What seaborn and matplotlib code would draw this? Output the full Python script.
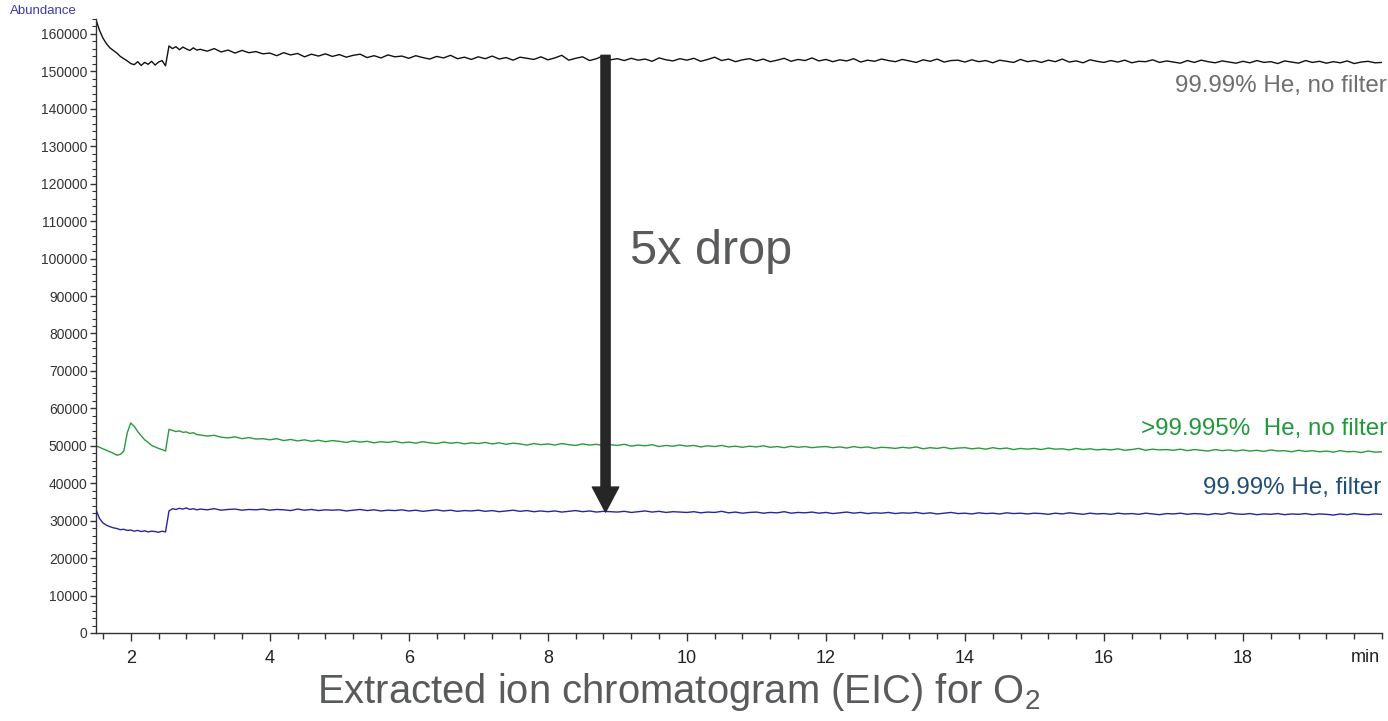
import numpy as np
import pandas as pd
import matplotlib
matplotlib.use("Agg")
import matplotlib.pyplot as plt
from matplotlib.ticker import MultipleLocator
import seaborn as sns

# Sampling grid: 0.05 min up to 2.95 min, then 0.1 min to 20.0 min
minutes = np.concatenate([
    np.round(1.5 + 0.05 * np.arange(30), 2),
    np.round(3.0 + 0.1 * np.arange(171), 1),
])

# Abundance traces, in thousands of counts
he_9999_no_filter = [
    163.8, 161.0, 158.9, 157.4, 156.3, 155.6, 154.9, 154.0, 153.4, 152.8,
    152.1, 151.8, 152.6, 151.6, 152.4, 151.9, 152.7, 151.7, 152.5, 152.9,
    151.5, 156.8, 156.1, 156.6, 155.8, 156.5, 156.0, 155.6, 156.3, 155.7,
    155.9, 155.4, 156.1, 155.2, 155.7, 154.9, 155.6, 155.0, 155.3, 154.7,
    154.9, 154.2, 155.0, 154.4, 154.8, 153.9, 154.6, 154.1, 154.7, 154.0,
    154.5, 153.8, 154.3, 154.6, 153.7, 154.2, 153.6, 154.4, 153.9, 154.1,
    153.5, 154.2, 153.7, 153.3, 154.0, 153.6, 154.3, 153.4, 153.8, 153.2,
    153.9, 153.4, 154.1, 153.3, 153.7, 153.0, 153.8, 153.5, 153.2, 153.9,
    153.1, 153.6, 154.3, 153.0, 153.5, 153.9, 152.9, 153.4, 154.2, 153.1,
    153.4, 152.9, 153.5, 153.0, 153.3, 152.7, 153.6, 153.1, 152.8, 153.4,
    153.0, 153.5, 152.7, 153.2, 153.8, 152.9, 153.3, 152.6, 153.1, 153.4,
    152.8, 153.3, 152.6, 153.0, 153.5, 152.7, 153.2, 152.9, 153.6, 152.8,
    153.2, 152.6, 153.1, 152.8, 153.4, 152.5, 153.0, 152.7, 153.3, 152.9,
    152.6, 153.2, 152.8, 152.4, 153.1, 152.7, 153.3, 152.5, 152.9, 153.0,
    152.5, 153.1, 152.6, 152.9, 152.3, 153.0, 152.7, 152.4, 153.2, 152.6,
    152.9, 152.4, 153.0, 152.6, 153.3, 152.5, 152.8, 152.3, 153.1, 152.7,
    152.4, 152.9, 152.5, 153.0, 152.3, 152.7, 152.6, 153.1, 152.4, 152.8,
    152.5, 152.2, 152.9, 152.4, 153.0, 152.6, 152.3, 152.8, 152.5, 152.2,
    152.7, 152.3, 152.9, 152.4, 152.6, 152.1, 152.8, 152.5, 152.2, 152.9,
    152.4, 152.7, 152.2, 152.6, 152.3, 152.8, 152.1, 152.5, 152.7, 152.3,
    152.4,
]

he_99995_no_filter = [
    50.0, 49.6, 49.2, 48.8, 48.4, 48.0, 47.5, 47.7, 48.6, 53.5,
    56.1, 55.2, 53.8, 52.7, 51.6, 50.9, 50.1, 49.7, 49.3, 49.0,
    48.6, 54.4, 54.1, 53.8, 54.0, 53.6, 53.7, 53.3, 53.5, 53.0,
    52.9, 52.6, 52.8, 52.3, 52.1, 52.4, 51.9, 52.2, 51.8, 51.9,
    51.6, 51.9, 51.4, 51.7, 51.3, 51.6, 51.2, 51.5, 51.1, 51.4,
    51.2, 50.9, 51.3, 51.0, 51.2, 50.8, 51.1, 50.9, 51.2, 50.8,
    51.0, 50.7, 51.1, 50.8, 50.6, 51.0, 50.7, 50.9, 50.5, 50.8,
    50.6, 50.9, 50.5, 50.8, 50.4, 50.7, 50.5, 50.2, 50.6, 50.3,
    50.5, 50.2, 50.6, 50.3, 50.1, 50.5, 50.2, 50.4, 50.0, 50.3,
    50.1, 50.4, 49.9, 50.2, 50.0, 50.3, 49.8, 50.1, 49.9, 50.2,
    49.9, 50.1, 49.7, 50.0, 49.8, 50.1, 49.7, 49.9, 49.6, 49.9,
    49.7, 50.0, 49.6, 49.8, 49.5, 49.9, 49.6, 49.8, 49.5, 49.7,
    49.8, 49.5, 49.7, 49.4, 49.8, 49.5, 49.7, 49.3, 49.6, 49.5,
    49.3, 49.6, 49.4, 49.7, 49.2, 49.5, 49.3, 49.6, 49.2, 49.4,
    49.5, 49.2, 49.4, 49.1, 49.5, 49.2, 49.4, 49.0, 49.3, 49.1,
    49.3, 49.0, 49.4, 49.1, 49.2, 48.9, 49.3, 49.0, 49.2, 48.9,
    49.1, 48.9, 49.2, 48.8, 49.0, 49.3, 48.8, 49.1, 48.9, 49.0,
    48.8, 49.1, 48.7, 49.0, 48.8, 48.6, 49.0, 48.7, 48.9, 48.6,
    48.9, 48.6, 48.8, 48.5, 48.9, 48.6, 48.7, 48.4, 48.8, 48.5,
    48.7, 48.4, 48.6, 48.3, 48.7, 48.4, 48.5, 48.2, 48.6, 48.3,
    48.4,
]

he_9999_filter = [
    32.9, 30.6, 29.4, 28.8, 28.4, 28.1, 27.9, 27.6, 27.7, 27.4,
    27.5, 27.2, 27.4, 27.1, 27.3, 27.0, 27.2, 27.1, 26.9, 27.2,
    27.0, 32.6, 33.2, 33.0, 33.3, 33.1, 33.4, 33.0, 33.2, 32.9,
    33.1, 32.9, 33.2, 32.8, 33.0, 33.1, 32.8, 33.0, 32.9, 33.1,
    32.8, 33.0, 32.9, 32.7, 33.1, 32.8, 33.0, 32.7, 32.9, 32.8,
    32.9, 32.6, 32.8, 33.0, 32.7, 32.9, 32.6, 32.8, 32.7, 32.9,
    32.6, 32.8, 32.5, 32.7, 32.9, 32.6, 32.8, 32.5, 32.7, 32.6,
    32.8, 32.5, 32.7, 32.4, 32.6, 32.8, 32.5, 32.7, 32.4, 32.6,
    32.4, 32.6, 32.3, 32.5, 32.7, 32.4, 32.6, 32.3, 32.5, 32.4,
    32.3, 32.5, 32.2, 32.4, 32.6, 32.3, 32.5, 32.2, 32.4, 32.3,
    32.2, 32.4, 32.1, 32.3, 32.2, 32.5, 32.1, 32.3, 32.0, 32.2,
    32.3, 32.0, 32.2, 32.1, 32.4, 32.0, 32.2, 32.1, 32.3, 32.0,
    32.2, 31.9, 32.1, 32.3, 32.0, 32.2, 31.9, 32.1, 32.0, 32.2,
    31.9, 32.1, 32.0, 32.2, 31.9, 32.1, 31.8, 32.0, 32.2, 31.9,
    32.0, 31.8, 32.1, 31.9, 32.0, 31.8, 32.1, 31.9, 32.0, 31.8,
    32.0, 31.9, 31.7, 32.0, 31.8, 32.1, 31.9, 31.7, 32.0, 31.8,
    31.9, 31.7, 32.0, 31.8, 31.9, 31.7, 32.0, 31.8, 31.6, 31.9,
    31.8, 32.0, 31.7, 31.9, 31.8, 31.6, 31.9, 31.7, 32.1, 31.8,
    31.7, 31.9, 31.6, 31.8, 31.7, 31.9, 31.6, 31.8, 31.7, 31.9,
    31.6, 31.8, 31.7, 31.5, 31.8, 31.6, 31.9, 31.7, 31.6, 31.8,
    31.7,
]

series_names = ["99.99% He, no filter", ">99.995%  He, no filter", "99.99% He, filter"]
line_colors = ["#111111", "#2b9a3c", "#2626a0"]
label_colors = ["#6e6e6e", "#1f9a3a", "#1f4e79"]

# Arrow from the unfiltered level down to the filtered level
drop_time = 8.83
drop_from = 154300
drop_to = 32300

frames = []
for name, vals in zip(series_names, [he_9999_no_filter, he_99995_no_filter, he_9999_filter]):
    frames.append(pd.DataFrame({
        "time": minutes,
        "abundance": np.asarray(vals) * 1000.0,
        "trace": name,
    }))
data = pd.concat(frames, ignore_index=True)

sns.set_theme(style="ticks")
plt.rcParams["font.family"] = ["Liberation Sans", "DejaVu Sans"]
plt.rcParams["mathtext.fontset"] = "custom"
plt.rcParams["mathtext.rm"] = "Liberation Sans"

W, H = 1388, 721
fig = plt.figure(figsize=(W / 100, H / 100), dpi=100)
ax = fig.add_axes([96 / W, 1 - 633 / H, (1382 - 96) / W, (633 - 19) / H])

sns.lineplot(data=data, x="time", y="abundance", hue="trace",
             palette=dict(zip(series_names, line_colors)),
             estimator=None, sort=False, linewidth=1.0, legend=False, ax=ax)

ax.set_xlim(1.5, 20.0)
ax.set_ylim(0, 164000)
ax.set_xlabel("")
ax.set_ylabel("")

ax.xaxis.set_minor_locator(MultipleLocator(0.4))
ax.yaxis.set_minor_locator(MultipleLocator(2000))
ax.set_xticks([2, 4, 6, 8, 10, 12, 14, 16, 18])
ax.set_xticklabels([str(v) for v in [2, 4, 6, 8, 10, 12, 14, 16, 18]])
ax.set_yticks(np.arange(0, 160001, 10000))
ax.set_yticklabels([str(int(v)) for v in np.arange(0, 160001, 10000)])

ax.tick_params(axis="x", which="major", length=6, width=1, color="#333333",
               labelsize=13, labelcolor="#222222", pad=6)
ax.tick_params(axis="x", which="minor", length=4, width=1, color="#333333")
ax.tick_params(axis="y", which="major", length=4, width=1, color="#333333",
               labelsize=10, labelcolor="#333333", pad=2)
ax.tick_params(axis="y", which="minor", length=3, width=0.8, color="#333333")

sns.despine(ax=ax)
for side in ("left", "bottom"):
    ax.spines[side].set_color("#333333")
    ax.spines[side].set_linewidth(1.0)

ax.annotate("", xy=(drop_time, drop_to), xytext=(drop_time, drop_from),
            arrowprops=dict(arrowstyle="simple,head_width=0.95,head_length=0.9,tail_width=0.33",
                            color="#262626", shrinkA=0, shrinkB=0, mutation_scale=20))
ax.text(9.18, 101800, "5x drop", fontsize=35, color="#595a5c", ha="left", va="center")

# Trace labels at the right edge
fig.text(1387 / W, 1 - 86 / H, series_names[0], fontsize=17.4, color=label_colors[0],
         ha="right", va="center")
fig.text(1387 / W, 1 - 429 / H, series_names[1], fontsize=17.4, color=label_colors[1],
         ha="right", va="center")
fig.text(1381 / W, 1 - 488 / H, series_names[2], fontsize=17.4, color=label_colors[2],
         ha="right", va="center")

fig.text(10 / W, 1 - 11 / H, "Abundance", fontsize=9.5, color="#3a3aa8",
         ha="left", va="center")
fig.text(1380 / W, 1 - 658 / H, "min", fontsize=13, color="#222222",
         ha="right", va="center")
fig.text(679 / W, 1 - 692 / H, r"Extracted ion chromatogram (EIC) for O$_\mathrm{2}$",
         fontsize=28.8, color="#595a5c", ha="center", va="center")

fig.savefig("out.png", dpi=100, facecolor="white")
